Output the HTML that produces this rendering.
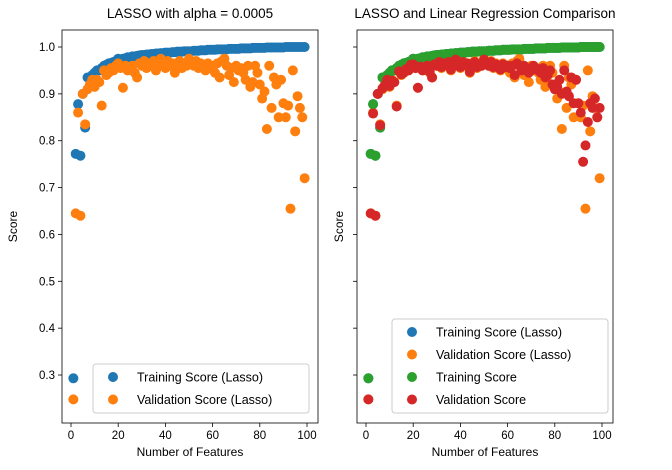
<!DOCTYPE html>
<html><head><meta charset="utf-8"><style>
body{margin:0;background:#fff;}
svg{display:block;font-family:"Liberation Sans","DejaVu Sans",sans-serif;}
</style></head><body>
<svg id="chart" width="672" height="470"></svg>
<script>
const features = Array.from({length:99},(_,i)=>i+1);
const lassoTrain = [.293,.772,.878,.768,.900,.828,.935,.935,.940,.945,.950,.950,.955,.960,.962,.965,.966,.968,.970,.975,.972,.975,.976,.978,.978,.980,.980,.981,.982,.983,
.983,.984,.984,.985,.985,.986,.986,.987,.987,.988,.988,.988,.989,.989,.990,.990,.990,.991,.991,.991,.991,.992,.992,.992,.993,.993,.993,.994,.994,.994,
.994,.995,.995,.995,.995,.995,.996,.996,.996,.996,.996,.997,.997,.997,.997,.997,.998,.998,.998,.998,.998,.998,.999,.999,.999,.999,.999,.999,.999,.999,
1.0,1.0,1.0,1.0,1.0,1.0,1.0,1.0,1.0];
const lassoVal = [.248,.645,.860,.640,.900,.835,.910,.920,.930,.915,.930,.925,.875,.950,.940,.945,.955,.950,.960,.965,.955,.913,.960,.950,.955,.960,.945,.935,.965,.960,
.970,.955,.965,.960,.970,.950,.965,.975,.960,.955,.970,.960,.965,.945,.960,.970,.955,.965,.960,.975,.965,.960,.970,.955,.965,.960,.950,.965,.955,.960,
.945,.965,.935,.970,.975,.960,.940,.955,.925,.960,.950,.955,.945,.930,.960,.915,.925,.960,.945,.920,.890,.905,.825,.960,.870,.935,.920,.850,.930,.880,
.850,.875,.655,.950,.820,.895,.870,.850,.720];
const linTrain = lassoTrain.slice();
const linVal = [.248,.645,.858,.640,.900,.833,.912,.918,.930,.917,.928,.925,.873,.948,.942,.945,.953,.950,.962,.963,.955,.913,.958,.950,.957,.960,.947,.935,.963,.960,
.968,.957,.965,.962,.968,.952,.963,.973,.960,.957,.968,.962,.965,.947,.962,.968,.957,.963,.960,.973,.963,.960,.968,.957,.963,.960,.952,.963,.957,.960,
.955,.960,.940,.965,.960,.950,.960,.955,.945,.950,.960,.955,.950,.945,.955,.935,.940,.950,.920,.910,.915,.930,.900,.950,.905,.895,.935,.880,.930,.880,
.860,.755,.790,.840,.880,.870,.890,.850,.870];
const xTicks=[0,20,40,60,80,100];
const yTicks=[0.3,0.4,0.5,0.6,0.7,0.8,0.9,1.0];
const colors={blue:'#1f77b4',orange:'#ff7f0e',green:'#2ca02c',red:'#d62728'};
const NS='http://www.w3.org/2000/svg';
const svgEl=document.getElementById('chart');
function mk(tag,attrs,parent,text){const e=document.createElementNS(NS,tag);for(const k in attrs)e.setAttribute(k,attrs[k]);if(text!==undefined)e.textContent=text;(parent||svgEl).appendChild(e);return e;}
const plotTop=30,plotBottom=423;
function yS(v){return 47+(1.0-v)/0.1*46.86;}
function makePanel(left,right,title,series,legend,showYLabels,name){
  const g=mk('g',{});
  
  
  const x0=left+9, x100=right-11;
  const xS=v=>x0+(x100-x0)*v/100;
  series.forEach(s=>{
    const sg=mk('g',{},g);
    
    
    s.vals.forEach((v,i)=>{
      const c=mk('circle',{cx:xS(features[i]),cy:yS(v),r:5,fill:s.color},sg);
      
      
    });
  });
  const frame=mk('rect',{x:left,y:plotTop,width:right-left,height:plotBottom-plotTop,fill:'none',stroke:'#000','stroke-width':0.8},g);
  
  
  xTicks.forEach(t=>{
    const x=xS(t);
    mk('line',{x1:x,x2:x,y1:plotBottom,y2:plotBottom+4,stroke:'#000','stroke-width':0.8},g);
    const tl=mk('text',{x:x,y:plotBottom+16,'text-anchor':'middle','font-size':11.5},g,String(t));
    
    
  });
  yTicks.forEach(t=>{
    const y=yS(t);
    mk('line',{x1:left-4,x2:left,y1:y,y2:y,stroke:'#000','stroke-width':0.8},g);
    if(showYLabels){
      const tl=mk('text',{x:left-7,y:y+4,'text-anchor':'end','font-size':11.5},g,t.toFixed(1));
      
      
    }
  });
  const xt=mk('text',{x:(left+right)/2,y:456,'text-anchor':'middle','font-size':12},g,'Number of Features');
  
  
  const yx=showYLabels?17:left-14;
  const yc=(plotTop+plotBottom)/2;
  const yt=mk('text',{x:yx,y:yc,'text-anchor':'middle','font-size':12,transform:`rotate(-90 ${yx} ${yc})`},g,'Score');
  
  
  const tt=mk('text',{x:(left+right)/2,y:18,'text-anchor':'middle','font-size':13.5},g,title);
  
  
  const lg=mk('g',{},g);
  
  
  const lh=series.length*22.5+4;
  mk('rect',{x:legend.x,y:plotBottom-10-lh,width:legend.w,height:lh,rx:3,fill:'#fff','fill-opacity':0.8,stroke:'#ccc'},lg);
  series.forEach((s,i)=>{
    const ey=plotBottom-10-lh+13+i*22.5;
    const e=mk('g',{},lg);
    
    
    mk('circle',{cx:legend.x+20,cy:ey,r:5,fill:s.color},e);
    mk('text',{x:legend.x+44,y:ey+4.5,'font-size':12.5},e,s.label);
  });
}
makePanel(62,318,'LASSO with alpha = 0.0005',[
 {name:'training-lasso-series',vals:lassoTrain,color:colors.blue,label:'Training Score (Lasso)'},
 {name:'validation-lasso-series',vals:lassoVal,color:colors.orange,label:'Validation Score (Lasso)'}
],{x:93,w:216},true,'left-panel');
makePanel(357,613,'LASSO and Linear Regression Comparison',[
 {name:'training-lasso-series',vals:lassoTrain,color:colors.blue,label:'Training Score (Lasso)'},
 {name:'validation-lasso-series',vals:lassoVal,color:colors.orange,label:'Validation Score (Lasso)'},
 {name:'training-linear-series',vals:linTrain,color:colors.green,label:'Training Score'},
 {name:'validation-linear-series',vals:linVal,color:colors.red,label:'Validation Score'}
],{x:392,w:216},false,'right-panel');
</script>
</body></html>
